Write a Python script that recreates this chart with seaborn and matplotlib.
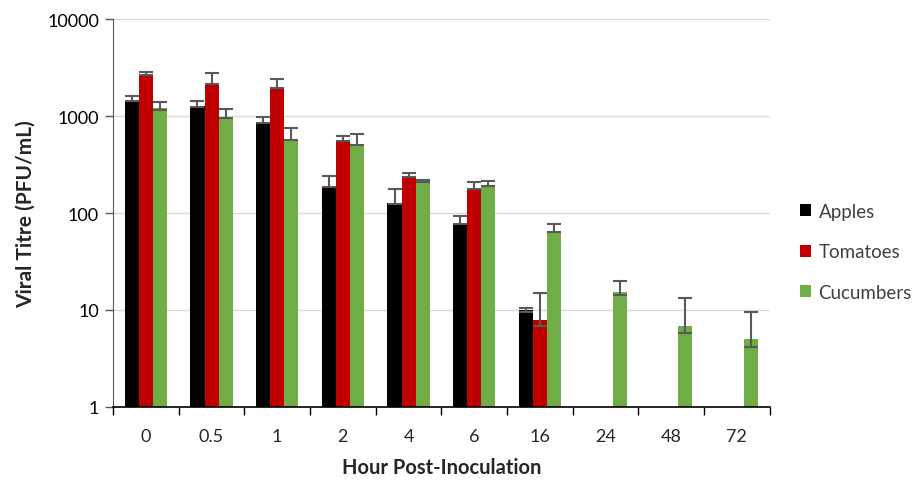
import matplotlib
matplotlib.use('Agg')
import matplotlib.pyplot as plt
import numpy as np
import pandas as pd
import seaborn as sns

# values (PFU/mL), NaN = no bar
hours = ['0', '0.5', '1', '2', '4', '6', '16', '24', '48', '72']
apples = [1460, 1280, 870, 188, 128, 79, 10, np.nan, np.nan, np.nan]
tomatoes = [2710, 2210, 1980, 566, 243, 180, 7.9, np.nan, np.nan, np.nan]
cucumbers = [1200, 977, 584, 514, 212, 196, 66, 15.2, 6.8, 5.0]

# error bar ends
apples_hi = [1620, 1440, 980, 241, 175, 94, 10.4, np.nan, np.nan, np.nan]
apples_lo = [1420, 1240, 840, 184, 125, 77, 9.5, np.nan, np.nan, np.nan]
tomatoes_hi = [2870, 2770, 2410, 627, 256, 207, 15, np.nan, np.nan, np.nan]
tomatoes_lo = [2650, 2150, 1930, 555, 238, 176, 6.9, np.nan, np.nan, np.nan]
cucumbers_hi = [1400, 1180, 752, 648, 219, 215, 76.4, 20, 13.2, 9.5]
cucumbers_lo = [1170, 950, 570, 500, 208, 192, 64, 14.3, 5.8, 4.1]

series = ['Apples', 'Tomatoes', 'Cucumbers']
colors = ['#000000', '#C00000', '#70AD47']

df = pd.DataFrame({
    'hour': hours * 3,
    'crop': np.repeat(series, len(hours)),
    'titre': apples + tomatoes + cucumbers,
})
err_hi = {'Apples': apples_hi, 'Tomatoes': tomatoes_hi, 'Cucumbers': cucumbers_hi}
err_lo = {'Apples': apples_lo, 'Tomatoes': tomatoes_lo, 'Cucumbers': cucumbers_lo}

sns.set_style('white')
plt.rcParams['font.family'] = ['Lato', 'DejaVu Sans']

fig = plt.figure(figsize=(9.21, 4.81), dpi=100)
ax = fig.add_axes([0.1227, 0.152, 0.713, 0.806])

sns.barplot(data=df, x='hour', y='titre', hue='crop', order=hours,
            hue_order=series, palette=colors, width=0.64, saturation=1,
            errorbar=None, ax=ax, linewidth=0, edgecolor='none')
ax.set_yscale('log')
ax.set_ylim(1, 10000)
ax.set_xlim(-0.5, len(hours) - 0.5)

# asymmetric error bars on top of each bar
for cont, name in zip(ax.containers, series):
    for bar in cont:
        h = bar.get_height()
        if not np.isfinite(h) or h <= 0:
            continue
        xc = bar.get_x() + bar.get_width() / 2
        i = int(round(xc))
        lo, hi = err_lo[name][i], err_hi[name][i]
        ax.errorbar(xc, h, yerr=[[h - lo], [hi - h]], fmt='none',
                    ecolor='#595959', elinewidth=1.5, capsize=5, capthick=1.5,
                    zorder=5)

ax.yaxis.grid(True, color='#D9D9D9', linewidth=1)
ax.set_axisbelow(True)
ax.set_yticks([1, 10, 100, 1000, 10000])
ax.set_yticklabels(['1', '10', '100', '1000', '10000'])
ax.minorticks_off()
ax.tick_params(axis='y', left=True, length=6, width=1, color='#595959',
               labelsize=13, labelcolor='#000000', pad=4)

# x ticks between groups like Excel
ax.set_xticks(range(len(hours)))
ax.set_xticklabels(hours)
ax.tick_params(axis='x', bottom=False, labelsize=13, pad=12)
ax.set_xticks(np.arange(-0.5, len(hours)), minor=True)
ax.tick_params(axis='x', which='minor', bottom=True, length=6, width=1,
               color='#000000')

for s in ['top', 'right']:
    ax.spines[s].set_visible(False)
ax.spines['left'].set_color('#595959')
ax.spines['bottom'].set_color('#000000')
ax.spines['bottom'].set_linewidth(1.2)

ax.set_xlabel('Hour Post-Inoculation', fontsize=14.5, fontweight='bold', labelpad=9)
ax.set_ylabel('Viral Titre (PFU/mL)', fontsize=15, fontweight='bold', labelpad=8)

leg = ax.legend(loc='center left', bbox_to_anchor=(1.02, 0.4), frameon=False,
                fontsize=13.5, handlelength=0.6, handleheight=0.6,
                labelspacing=1.25, handletextpad=0.4)
for t in leg.get_texts():
    t.set_color('#404040')

plt.savefig('out.png', dpi=100)
